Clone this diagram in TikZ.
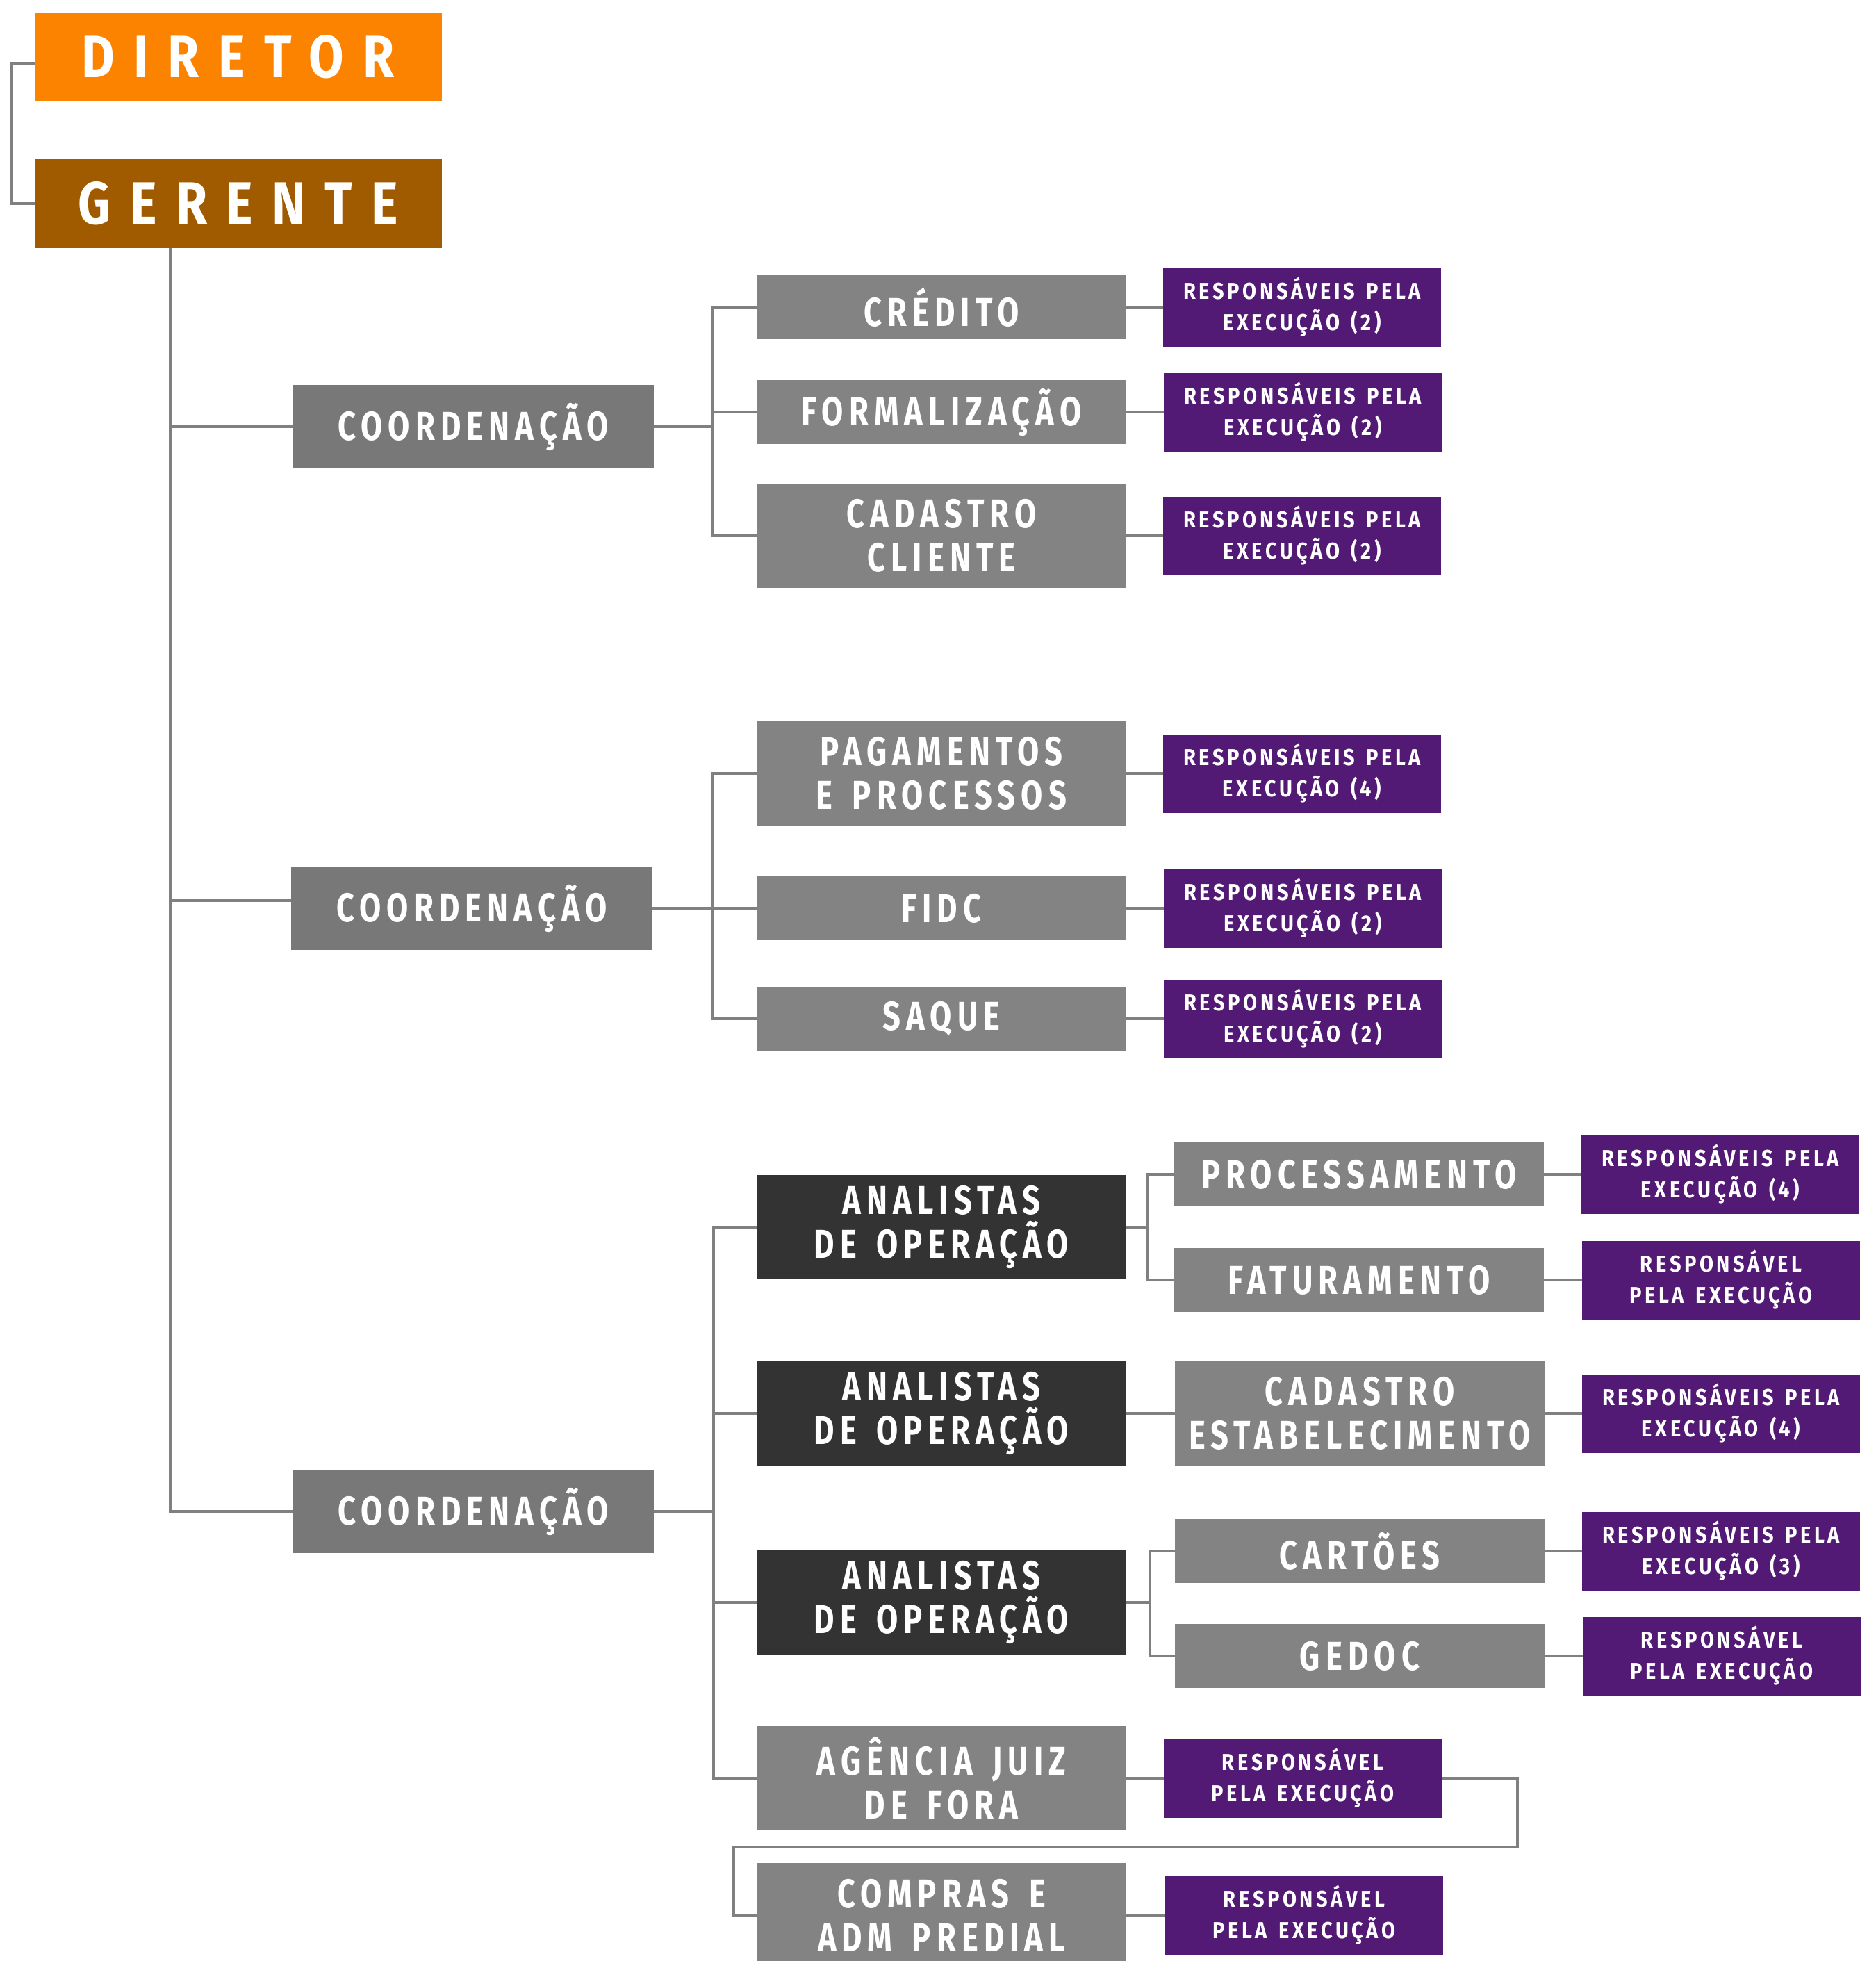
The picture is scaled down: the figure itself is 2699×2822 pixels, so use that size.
\documentclass[tikz,border=0pt]{standalone}
\usepackage{fontspec}
\newfontfamily\labfam{Fira Sans}[FakeStretch=0.78, LetterSpace=14, WordSpace=1.5]
\newfontfamily\respfam{Fira Sans}[FakeStretch=0.88, LetterSpace=14, WordSpace=1.4]
\newfontfamily\topfam{Fira Sans}[FakeStretch=0.85, LetterSpace=32]
\definecolor{orng}{HTML}{FC8300}
\definecolor{brwn}{HTML}{A05A00}
\definecolor{coordgray}{HTML}{787878}
\definecolor{unitgray}{HTML}{838383}
\definecolor{darkbox}{HTML}{333333}
\definecolor{purp}{HTML}{521A74}
\definecolor{linegray}{HTML}{808080}
\tikzset{
  box/.style={rectangle, inner sep=0pt, align=center, text=white},
  topbox/.style={box, minimum width=585pt, minimum height=128pt,
    font=\topfam\bfseries\fontsize{86}{90}\selectfont},
  coord/.style={box, fill=coordgray, minimum width=520pt, minimum height=120pt,
    font=\labfam\bfseries\fontsize{58}{63}\selectfont},
  unit/.style={box, fill=unitgray, minimum width=532pt,
    font=\labfam\bfseries\fontsize{58}{63}\selectfont},
  shortbox/.style={minimum height=92pt},
  tallbox/.style={minimum height=150pt},
  dark/.style={fill=darkbox},
  resp/.style={box, fill=purp, minimum width=400pt, minimum height=113pt,
    font=\respfam\bfseries\fontsize{33}{45}\selectfont},
  link/.style={draw=linegray, line width=4.5pt}
}
\begin{document}
\begin{tikzpicture}[x=1pt,y=-1pt]
\useasboundingbox (0,0) rectangle (2699,2822);
% top
\node[topbox, fill=orng] (dir) at (343,82) {DIRETOR};
\node[topbox, fill=brwn] (ger) at (343,293) {GERENTE};
% coordinators
\node[coord] (c1) at (681,614) {COORDENAÇÃO};
\node[coord] (c2) at (679,1307) {COORDENAÇÃO};
\node[coord] (c3) at (681,2175) {COORDENAÇÃO};
% group 1
\node[unit, shortbox] (cred) at (1355,442) {CRÉDITO};
\node[unit, shortbox] (form) at (1355,593) {FORMALIZAÇÃO};
\node[unit, tallbox] (cadc) at (1355,771) {CADASTRO\\CLIENTE};
\node[resp] (r1) at (1874,442) {RESPONSÁVEIS PELA\\EXECUÇÃO (2)};
\node[resp] (r2) at (1875,593) {RESPONSÁVEIS PELA\\EXECUÇÃO (2)};
\node[resp] (r3) at (1874,771) {RESPONSÁVEIS PELA\\EXECUÇÃO (2)};
% group 2
\node[unit, tallbox] (pag) at (1355,1113) {PAGAMENTOS\\E PROCESSOS};
\node[unit, shortbox] (fidc) at (1355,1307) {FIDC};
\node[unit, shortbox] (saq) at (1355,1466) {SAQUE};
\node[resp] (r4) at (1874,1113) {RESPONSÁVEIS PELA\\EXECUÇÃO (4)};
\node[resp] (r5) at (1875,1307) {RESPONSÁVEIS PELA\\EXECUÇÃO (2)};
\node[resp] (r6) at (1875,1466) {RESPONSÁVEIS PELA\\EXECUÇÃO (2)};
% group 3
\node[unit, tallbox, dark] (an1) at (1355,1766) {ANALISTAS\\DE OPERAÇÃO};
\node[unit, tallbox, dark] (an2) at (1355,2034) {ANALISTAS\\DE OPERAÇÃO};
\node[unit, tallbox, dark] (an3) at (1355,2306) {ANALISTAS\\DE OPERAÇÃO};
\node[unit, tallbox] (agen) at (1355,2559) {AGÊNCIA JUIZ\\DE FORA};
\node[unit, tallbox] (comp) at (1355,2756) {COMPRAS E\\ADM PREDIAL};
\node[resp] (ragen) at (1875,2559) {RESPONSÁVEL\\PELA EXECUÇÃO};
\node[resp] (rcomp) at (1877,2756) {RESPONSÁVEL\\PELA EXECUÇÃO};
% level 3
\node[unit, shortbox] (proc) at (1956,1690) {PROCESSAMENTO};
\node[unit, shortbox] (fat) at (1956,1842) {FATURAMENTO};
\node[unit, tallbox] (cade) at (1957,2034) {CADASTRO\\ESTABELECIMENTO};
\node[unit, shortbox] (cart) at (1957,2232) {CARTÕES};
\node[unit, shortbox] (gedoc) at (1957,2383) {GEDOC};
\node[resp] (r7) at (2476,1690) {RESPONSÁVEIS PELA\\EXECUÇÃO (4)};
\node[resp] (r8) at (2477,1842) {RESPONSÁVEL\\PELA EXECUÇÃO};
\node[resp] (r9) at (2477,2034) {RESPONSÁVEIS PELA\\EXECUÇÃO (4)};
\node[resp] (r10) at (2477,2232) {RESPONSÁVEIS PELA\\EXECUÇÃO (3)};
\node[resp] (r11) at (2478,2383) {RESPONSÁVEL\\PELA EXECUÇÃO};
% helper coordinates
\coordinate (lb) at (17,0);
\coordinate (trunk) at (245,0);
\coordinate (b1) at (1026,0);
\coordinate (b3) at (1027,0);
\coordinate (s1) at (1652,0);
\coordinate (s3) at (1655,0);
\coordinate (k1) at (2184,2658);
\coordinate (k2) at (1056,2658);
% connectors top
\draw[link] ([yshift=-9pt]dir.west) -| (lb |- ger.west) -- (ger.west);
\draw[link] (trunk |- ger.south) -- (trunk |- c3.west) -- (c3.west);
\draw[link] (trunk |- c1.west) -- (c1.west);
\draw[link] ([yshift=11pt]trunk |- c2.west) -- ([yshift=11pt]c2.west);
% group 1
\draw[link] (c1.east) -- (c1.east -| b1);
\draw[link] (cred.west) -| (b1 |- cadc.west) -- (cadc.west);
\draw[link] (form.west) -- (form.west -| b1);
\draw[link] (cred) -- (r1);
\draw[link] (form) -- (r2);
\draw[link] (cadc) -- (r3);
% group 2
\draw[link] (c2.east) -- (fidc.west);
\draw[link] (pag.west) -| (b1 |- saq.west) -- (saq.west);
\draw[link] (pag) -- (r4);
\draw[link] (fidc) -- (r5);
\draw[link] (saq) -- (r6);
% group 3
\draw[link] (c3.east) -- (c3.east -| b3);
\draw[link] (an1.west) -| (b3 |- agen.west) -- (agen.west);
\draw[link] (an2.west) -- (an2.west -| b3);
\draw[link] (an3.west) -- (an3.west -| b3);
\draw[link] (an1.east) -- (an1.east -| s1);
\draw[link] (proc.west) -| (s1 |- fat.west) -- (fat.west);
\draw[link] (an2) -- (cade);
\draw[link] (an3.east) -- (an3.east -| s3);
\draw[link] (cart.west) -| (s3 |- gedoc.west) -- (gedoc.west);
\draw[link] (proc) -- (r7);
\draw[link] (fat) -- (r8);
\draw[link] (cade) -- (r9);
\draw[link] (cart) -- (r10);
\draw[link] (gedoc) -- (r11);
\draw[link] (agen) -- (ragen);
\draw[link] (ragen.east) -| (k1) -- (k2) |- (comp.west);
\draw[link] (comp) -- (rcomp);
\end{tikzpicture}
\end{document}
